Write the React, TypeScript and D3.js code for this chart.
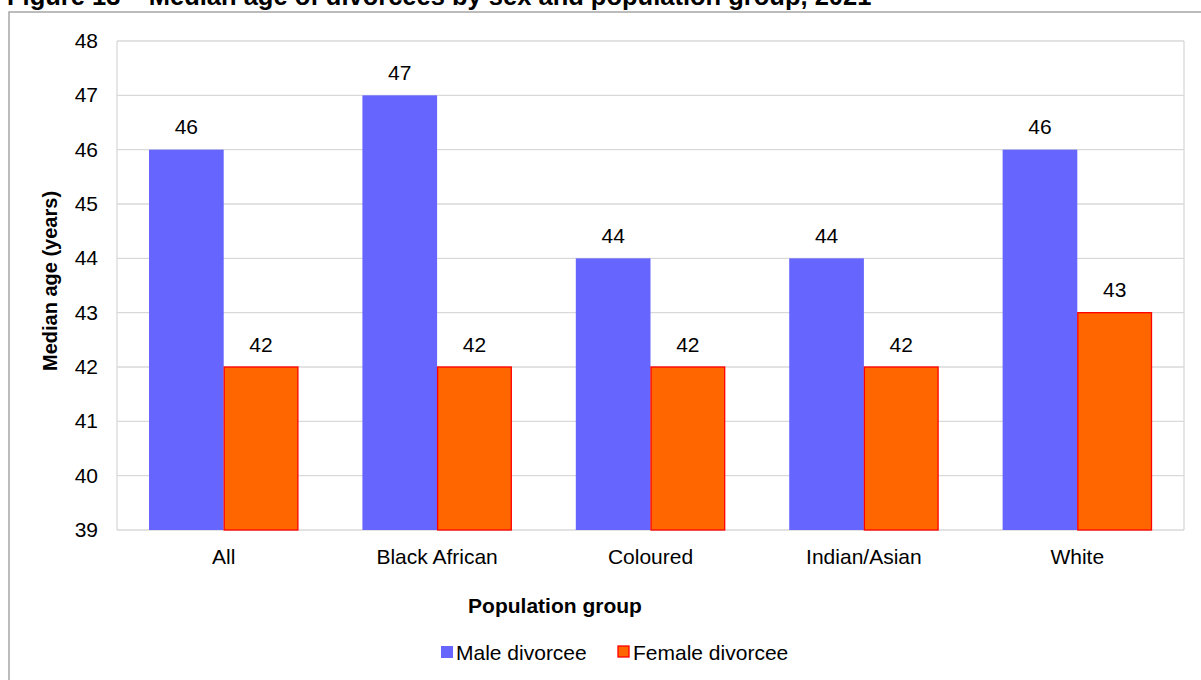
import React from "react";
import * as d3 from "d3";

const categories = ["All", "Black African", "Coloured", "Indian/Asian", "White"];
const maleValues = [46, 47, 44, 44, 46];
const femaleValues = [42, 42, 42, 42, 43];
const yTicks = [39, 40, 41, 42, 43, 44, 45, 46, 47, 48];
const seriesNames = ["Male divorcee", "Female divorcee"];

const W = 1201;
const H = 680;
const plot = { left: 117, right: 1184, top: 41, bottom: 530 };
const FONT = "'Liberation Sans', Arial, sans-serif";
const FS = 21;

export default function App() {
  const x = d3.scaleBand<string>().domain(categories).range([plot.left, plot.right]).paddingInner(0).paddingOuter(0);
  const y = d3.scaleLinear().domain([39, 48]).range([plot.bottom, plot.top]);
  const groupW = x.bandwidth() * 0.7;
  const barW = groupW / 2;
  const sub = d3.scaleBand<string>().domain(seriesNames).range([0, groupW]);

  return (
    <svg width={W} height={H} style={{ position: "absolute", left: 0, top: 0, background: "#fff" }} fontFamily={FONT}>
      <rect x={0} y={0} width={W} height={H} fill="#fff" />
      <text x={7} y={5} fontSize={25.5} fontWeight="bold" fill="#000">
        Figure 13 – Median age of divorcees by sex and population group, 2021
      </text>
      <rect x={9} y={12} width={W} height={H} fill="none" stroke="#a6a6a6" strokeWidth={1.5} />
      {yTicks.map((t) => (
        <line key={t} x1={plot.left} x2={plot.right} y1={y(t)} y2={y(t)} stroke="#d9d9d9" strokeWidth={1.3} />
      ))}
      <line x1={plot.left} x2={plot.left} y1={plot.top} y2={plot.bottom} stroke="#d9d9d9" strokeWidth={1.3} />
      <line x1={plot.right} x2={plot.right} y1={plot.top} y2={plot.bottom} stroke="#d9d9d9" strokeWidth={1.3} />
      {yTicks.map((t) => (
        <text key={t} x={98} y={y(t) + 7} textAnchor="end" fontSize={FS} fill="#000">
          {t}
        </text>
      ))}
      {categories.map((c, i) => {
        const gx = (x(c) as number) + (x.bandwidth() - groupW) / 2;
        const mx = gx + (sub(seriesNames[0]) as number);
        const fx = gx + (sub(seriesNames[1]) as number);
        return (
          <g key={c}>
            <rect x={mx} y={y(maleValues[i])} width={barW} height={plot.bottom - y(maleValues[i])} fill="#6666FF" />
            <rect
              x={fx + 0.5}
              y={y(femaleValues[i])}
              width={barW - 1}
              height={plot.bottom - y(femaleValues[i])}
              fill="#FF6600"
              stroke="#FF0000"
              strokeWidth={1.3}
            />
            <text x={mx + barW / 2} y={y(maleValues[i]) - 15.5} textAnchor="middle" fontSize={FS} fill="#000">
              {maleValues[i]}
            </text>
            <text x={fx + barW / 2} y={y(femaleValues[i]) - 15.5} textAnchor="middle" fontSize={FS} fill="#000">
              {femaleValues[i]}
            </text>
            <text x={(x(c) as number) + x.bandwidth() / 2} y={564} textAnchor="middle" fontSize={FS} fill="#000">
              {c}
            </text>
          </g>
        );
      })}
      <text x={555} y={613} textAnchor="middle" fontSize={FS} fontWeight="bold" fill="#000">
        Population group
      </text>
      <text
        transform={`translate(57, 281) rotate(-90)`}
        textAnchor="middle"
        fontSize={20}
        fontWeight="bold"
        fill="#000"
      >
        Median age (years)
      </text>
      <rect x={441} y={646} width={12} height={12} fill="#6666FF" />
      <text x={456} y={660} fontSize={FS} fill="#000">{seriesNames[0]}</text>
      <rect x={618} y={646} width={11} height={11} fill="#FF6600" stroke="#FF0000" strokeWidth={1.3} />
      <text x={633} y={660} fontSize={FS} fill="#000">{seriesNames[1]}</text>
    </svg>
  );
}
